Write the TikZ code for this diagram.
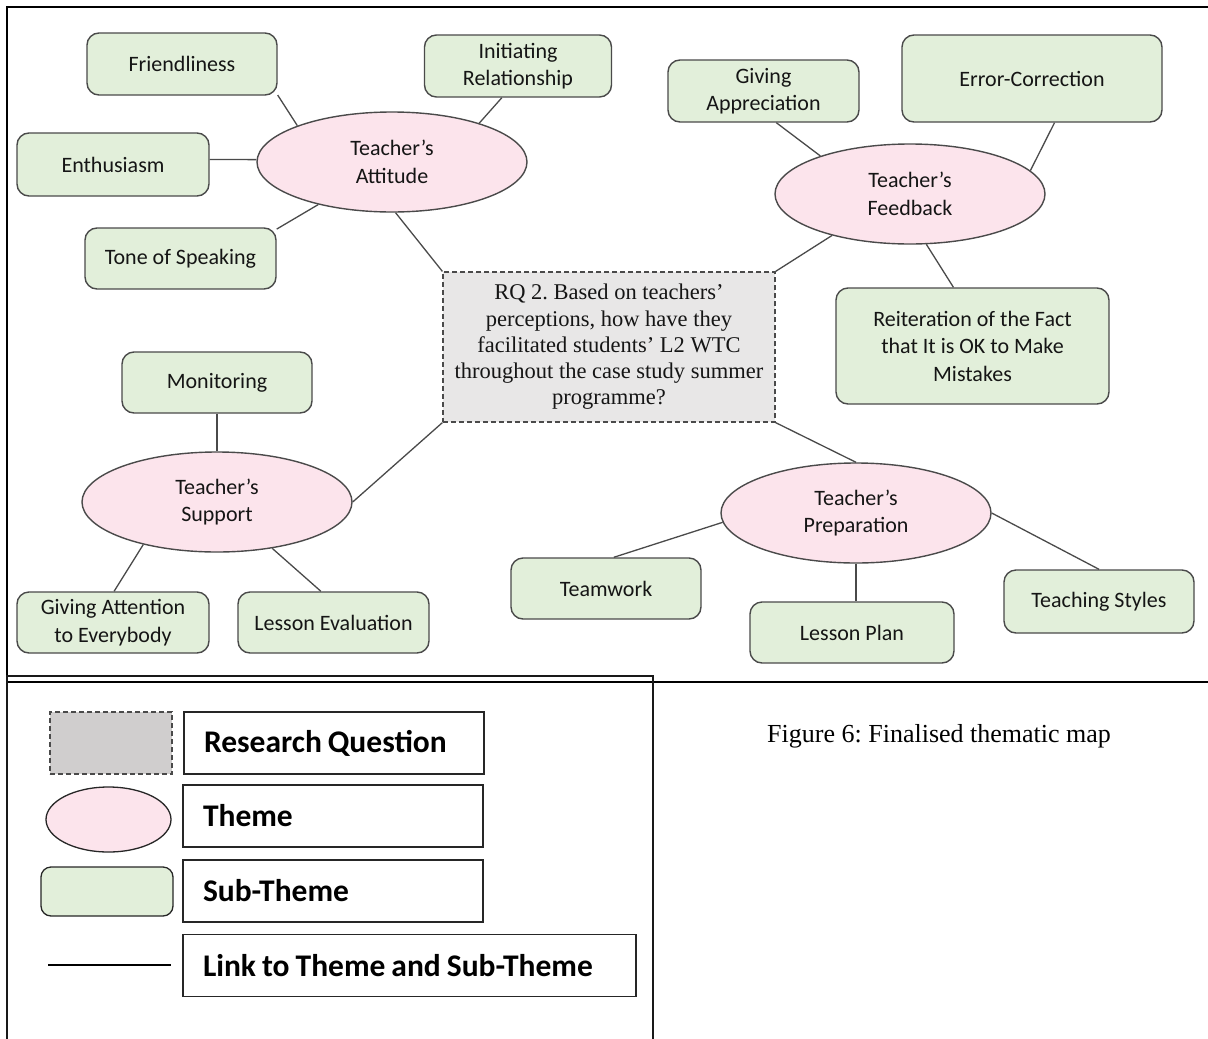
\documentclass[tikz,border=0pt]{standalone}
\usepackage{fontspec}
\setmainfont{Liberation Serif}
\newfontfamily\calfont{Carlito}
\usetikzlibrary{shapes.geometric}
\definecolor{subgreen}{HTML}{E2EFDA}
\definecolor{themepink}{HTML}{FCE4EC}
\definecolor{rqgray}{HTML}{E8E7E7}
\definecolor{leggray}{HTML}{D0CECE}
\definecolor{edgecol}{HTML}{4A4A4A}
\definecolor{txtcol}{HTML}{151515}
\begin{document}
\frenchspacing
\begin{tikzpicture}[x=1pt,y=-1pt,
  sub/.style={draw=edgecol, line width=1.4pt, fill=subgreen, rounded corners=12pt,
    align=center, inner sep=0pt, text=txtcol,
    font=\calfont\fontsize{22}{27.5}\selectfont},
  theme/.style={ellipse, draw=edgecol, line width=1.4pt, fill=themepink,
    inner sep=0pt, align=center, text=txtcol, minimum width=270pt, minimum height=100pt,
    font=\calfont\fontsize{22}{27.5}\selectfont},
  rqbox/.style={draw=edgecol, line width=1.2pt, dash pattern=on 5pt off 3pt,
    fill=rqgray, inner sep=0pt, align=center, text=txtcol,
    font=\fontsize{22.5}{26.25}\selectfont},
  link/.style={draw=edgecol, line width=1.3pt},
  legbox/.style={draw=black!85, line width=1.3pt, inner xsep=20pt, inner ysep=0pt,
    align=left, minimum height=62pt, text=black,
    font=\calfont\bfseries\fontsize{31.5}{36}\selectfont,
    execute at begin node={\spaceskip=6pt\relax}},
  frameline/.style={draw=black, line width=2.2pt},
  legframe/.style={draw=black!90, line width=1.4pt}
]
\useasboundingbox (0,0) rectangle (1208,1039);

% frames
\coordinate (ftr) at (1208,7);
\coordinate (ftl) at (7,7);
\coordinate (fbl) at (7,682);
\coordinate (fbr) at (1208,682);
\draw[frameline] (ftr) -- (ftl) -- (fbl) -- (fbr);
\coordinate (lg1) at (7,1039);
\coordinate (lg2) at (7,676);
\coordinate (lg3) at (653,676);
\coordinate (lg4) at (653,1039);
\draw[legframe] (lg1) -- (lg2) -- (lg3) -- (lg4);

% research question
\node[rqbox, minimum width=332pt, minimum height=150pt] (rq) at (609,347)
  {RQ 2. Based on teachers’\\perceptions, how have they\\facilitated students’ L2 WTC\\throughout the case study summer\\programme?};

% themes
\node[theme] (att) at (392,162) {Teacher’s\\Attitude};
\node[theme] (fb) at (910,194) {Teacher’s\\Feedback};
\node[theme] (sup) at (217,502) {Teacher’s\\Support};
\node[theme] (prep) at (856,513) {Teacher’s\\Preparation};

% sub-themes
\node[sub, minimum width=190pt, minimum height=62pt] (fr) at (182,64) {Friendliness};
\node[sub, minimum width=187pt, minimum height=62pt] (ir) at (518,66) {Initiating\\Relationship};
\node[sub, minimum width=192pt, minimum height=63pt] (en) at (113,164.5) {Enthusiasm};
\node[sub, minimum width=191pt, minimum height=61pt] (to) at (180.5,258.5) {Tone of Speaking};
\node[sub, minimum width=191pt, minimum height=62pt] (ga) at (763.5,91) {Giving\\Appreciation};
\node[sub, minimum width=260pt, minimum height=87pt] (ec) at (1032,78.5) {Error-Correction};
\node[sub, minimum width=273pt, minimum height=116pt] (re) at (972.5,346) {Reiteration of the Fact\\that It is OK to Make\\Mistakes};
\node[sub, minimum width=190pt, minimum height=61pt] (mo) at (217,382.5) {Monitoring};
\node[sub, minimum width=192pt, minimum height=61pt] (gat) at (113,622.5) {Giving Attention\\to Everybody};
\node[sub, minimum width=191pt, minimum height=61pt] (le) at (333.5,622.5) {Lesson Evaluation};
\node[sub, minimum width=190pt, minimum height=61pt] (tw) at (606,588.5) {Teamwork};
\node[sub, minimum width=204pt, minimum height=61pt] (lp) at (852,632.5) {Lesson Plan};
\node[sub, minimum width=190pt, minimum height=63pt] (ts) at (1099,601.5) {Teaching Styles};

% links
\draw[link] (fr.-18) -- (att.159);
\draw[link] (ir.-117) -- (att.24);
\draw[link] (en.3) -- (att.179);
\draw[link] (to.17) -- (att.210);
\draw[link] (att.-86) -- (rq.north west);
\draw[link] (ga.-68) -- (fb.157);
\draw[link] (ec.-63) -- (fb.11);
\draw[link] (fb.208) -- (rq.north east);
\draw[link] (fb.-72) -- (re.108);
\draw[link] (mo.south) -- (mo.south|-sup.north);
\draw[link] (sup.east) -- (rq.south west);
\draw[link] (gat.88) -- (sup.210);
\draw[link] (le.112) -- (sup.-40);
\draw[link] (rq.south east) -- (prep.north);
\draw[link] (tw.76) -- (prep.184);
\draw[link] (prep.south) -- (prep.south|-lp.north);
\draw[link] (prep.east) -- (ts.north);

% legend
\node[draw=edgecol, line width=1.2pt, dash pattern=on 5pt off 3pt, fill=leggray,
  minimum width=122pt, minimum height=62pt, inner sep=0pt] (lgq) at (111,743) {};
\node[legbox, minimum width=300pt, text width=260pt] (lrq) at (334,743) {Research Question};
\node[ellipse, draw=black!85, line width=1.3pt, fill=themepink, minimum width=125pt,
  minimum height=65pt, inner sep=0pt] (lgt) at (108.5,819.5) {};
\node[legbox, minimum width=300pt, text width=260pt] (lth) at (333,816) {Theme};
\node[draw=black!85, line width=1.3pt, fill=subgreen, rounded corners=10pt,
  minimum width=132pt, minimum height=49pt, inner sep=0pt] (lgs) at (107,891.5) {};
\node[legbox, minimum width=300pt, text width=260pt] (lst) at (333,891) {Sub-Theme};
\coordinate (lla) at (48,965);
\coordinate (llb) at (171,965);
\draw[draw=black, line width=1.2pt] (lla) -- (llb);
\node[legbox, minimum width=453pt, text width=413pt] (lln) at (409.5,965.5) {Link to Theme and Sub-Theme};

% caption
\node[anchor=base west, inner sep=0pt, font=\fontsize{26}{30}\selectfont, text=black] (cap) at (767,742)
  {Figure 6: Finalised thematic map};
\end{tikzpicture}
\end{document}
